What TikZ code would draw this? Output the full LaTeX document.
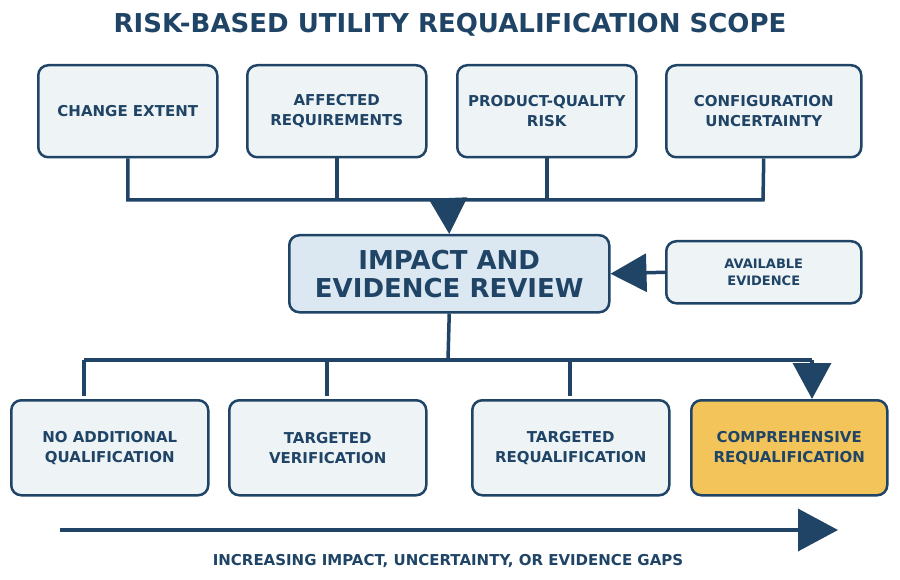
\documentclass[tikz,border=0pt]{standalone}
\usepackage{fontspec}
\setmainfont{DejaVu Sans}
\usetikzlibrary{arrows.meta}
\definecolor{dk}{HTML}{1F4466}
\definecolor{lt}{HTML}{EEF3F6}
\definecolor{md}{HTML}{DCE8F1}
\definecolor{og}{HTML}{F2C45A}
\begin{document}
\begin{tikzpicture}[x=1pt,y=-1pt,
 box/.style={draw=dk,line width=2.5pt,rounded corners=10pt,fill=lt,text=dk,font=\bfseries\fontsize{15}{20}\selectfont,align=center,anchor=north west,inner sep=0pt},
 ln/.style={draw=dk,line width=3.5pt},
 big/.style={-{Triangle[length=36pt,width=38pt]}}]
\useasboundingbox (0,0) rectangle (900,580);
\node[text=dk,font=\bfseries\fontsize{26}{30}\selectfont] (title) at (450,25) {RISK-BASED UTILITY REQUALIFICATION SCOPE};
\node[box,minimum width=179pt,minimum height=92pt] (t1) at (37,64) {CHANGE EXTENT};
\node[box,minimum width=179pt,minimum height=92pt] (t2) at (246,64) {AFFECTED\\REQUIREMENTS};
\node[box,minimum width=179pt,minimum height=92pt] (t3) at (456,64) {PRODUCT-QUALITY\\RISK};
\node[box,minimum width=195pt,minimum height=92pt] (t4) at (665,64) {CONFIGURATION\\UNCERTAINTY};
\node[box,fill=md,minimum width=320pt,minimum height=77pt,font=\bfseries\fontsize{26}{28}\selectfont] (c) at (288,234) {IMPACT AND\\EVIDENCE REVIEW};
\node[box,minimum width=195pt,minimum height=62pt,font=\bfseries\fontsize{13}{17}\selectfont] (ae) at (665,240) {AVAILABLE\\EVIDENCE};
\node[box,minimum width=197pt,minimum height=95pt] (b1) at (10,399) {NO ADDITIONAL\\QUALIFICATION};
\node[box,minimum width=197pt,minimum height=95pt] (b2) at (228,399) {TARGETED\\VERIFICATION};
\node[box,minimum width=197pt,minimum height=95pt] (b3) at (471,399) {TARGETED\\REQUALIFICATION};
\node[box,fill=og,minimum width=196pt,minimum height=95pt] (b4) at (690,399) {COMPREHENSIVE\\REQUALIFICATION};
\coordinate (bl) at (126,200); \coordinate (br) at (763,200); \coordinate (bm) at (448,200);
\draw[ln] (t1.south) -- (t1.south|-bl) -- (br) -- (t4.south);
\draw[ln] (t2.south) -- (t2.south|-bl);
\draw[ln] (t3.south) -- (t3.south|-bl);
\draw[ln,big] (bm) -- (c.north);
\draw[ln,big] (ae.west) -- (c.east);
\coordinate (dm) at (448,360); \coordinate (dl) at (84,360); \coordinate (dr) at (812,360);
\draw[ln] (c.south) -- (dm);
\draw[ln] (dl) -- (dr);
\draw[ln] (dl) -- (84,396);
\draw[ln] (327,360) -- (327,396);
\draw[ln] (570,360) -- (570,396);
\draw[ln,big] (dr) -- (b4.north-|dr);
\coordinate (a1) at (60,530); \coordinate (a2) at (838,530);
\draw[ln,-{Triangle[length=40pt,width=42pt]}] (a1) -- (a2);
\node[text=dk,font=\bfseries\fontsize{15}{18}\selectfont] (cap) at (448,561) {INCREASING IMPACT, UNCERTAINTY, OR EVIDENCE GAPS};
\end{tikzpicture}
\end{document}
